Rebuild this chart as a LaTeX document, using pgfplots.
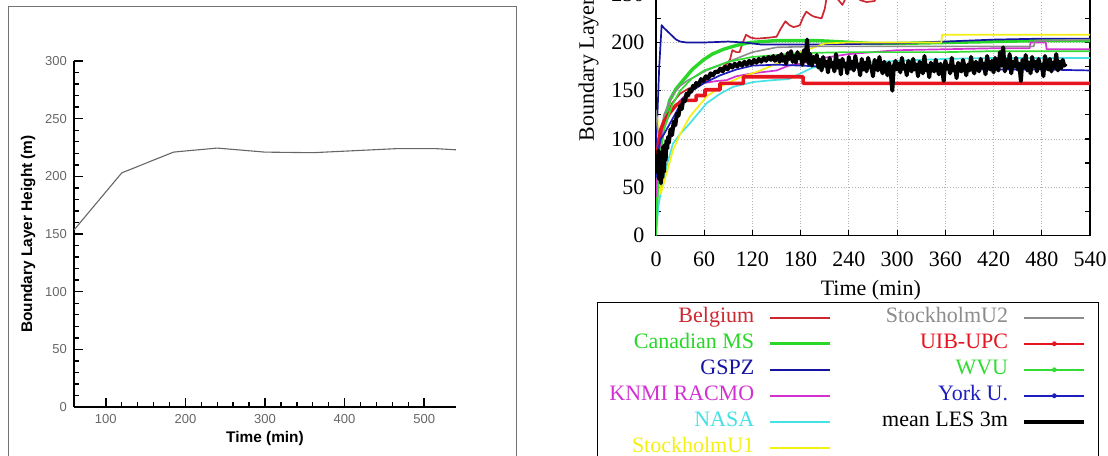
\documentclass[border=0pt]{standalone}
\usepackage{fontspec}
\setmainfont{Liberation Serif}
\newfontfamily\arial{Liberation Sans}
\usepackage{pgfplots}
\pgfplotsset{compat=1.18}

\definecolor{belg}{RGB}{205,40,50}
\definecolor{canad}{RGB}{40,215,40}
\definecolor{gspz}{RGB}{20,20,160}
\definecolor{knmi}{RGB}{210,50,210}
\definecolor{nasa}{RGB}{70,225,230}
\definecolor{stuA}{RGB}{245,240,20}
\definecolor{stuB}{RGB}{140,140,140}
\definecolor{uib}{RGB}{230,20,30}
\definecolor{wvu}{RGB}{50,220,50}
\definecolor{york}{RGB}{30,30,190}

\begin{document}
\begin{tikzpicture}

% left panel frame
\draw[black!55, line width=0.5pt] (4.3pt,-240pt) -- (4.3pt,-3pt) -- (258.3pt,-3pt) -- (258.3pt,-240pt);

% ---- left panel ----
\begin{axis}[
  at={(37pt,-203.5pt)}, anchor=south west,
  scale only axis, width=191pt, height=173pt,
  xmin=60, xmax=540, ymin=0, ymax=300,
  axis lines=left, axis line style={-, line width=0.9pt},
  xtick={100,200,...,500}, ytick={0,50,...,300},
  minor x tick num=4, minor y tick num=4,
  tick align=inside, major tick length=4.5pt, minor tick length=2.5pt,
  tick style={black, line width=0.7pt},
  /pgf/number format/assume math mode=true,
  ticklabel style={font=\arial\fontsize{6.5}{7}\selectfont, text=black!60},
  xlabel={Time (min)}, ylabel={Boundary Layer Height (m)},
  label style={font=\arial\bfseries\fontsize{7.7}{9}\selectfont},
  xlabel style={yshift=3pt},
  ylabel style={yshift=-2pt},
]
\addplot[black!60, line width=0.55pt] coordinates {
  (60,153.5) (120,203) (185,221) (200,222) (240,224.5) (300,221)
  (360,220.5) (420,222.5) (465,224) (515,224) (540,223)};
\end{axis}

% ---- right panel ----
\begin{axis}[
  at={(328pt,-117.65pt)}, anchor=south west,
  scale only axis, width=217pt, height=144.6pt,
  xmin=0, xmax=540, ymin=0, ymax=300,
  xtick={0,60,...,540}, ytick={0,50,...,300},
  minor y tick num=1,
  tick align=inside, major tick length=2.5pt, minor tick length=2.5pt,
  tick style={black, line width=0.6pt},
  axis line style={line width=0.7pt},
  grid=major, major grid style={densely dotted, black!30, line width=0.4pt},
  /pgf/number format/assume math mode=true,
  ticklabel style={font=\fontsize{11}{13}\selectfont},
  xticklabel style={yshift=-4.5pt},
  yticklabel style={xshift=-2.3pt},
  xlabel={Time (min)}, ylabel={Boundary Layer Height (m)},
  label style={font=\fontsize{11}{13}\selectfont},
  xlabel style={at={(axis description cs:0.495,-0.1891)}, anchor=center},
  ylabel style={at={(axis description cs:-0.1313,0.3226)}, anchor=south west, inner sep=0pt},
  legend columns=2, legend cell align=right, legend plot pos=right,
  legend image code/.code={\draw[mark repeat=2,mark phase=2,#1] plot coordinates {(0pt,0pt) (15pt,0pt) (30pt,0pt)};},
  legend style={
    at={(axis description cs:-0.136,-0.2306)}, anchor=north west,
    draw=black, inner xsep=6pt, inner ysep=2.7pt,
    font=\fontsize{11}{13}\selectfont,
    nodes={inner sep=0pt, text height=7.5pt, text depth=2.5pt},
    row sep=3pt,
    /tikz/every odd column/.append style={column sep=7pt},
    /tikz/every even column/.append style={column sep=25.5pt},
  },
  every axis plot/.append style={line join=round},
]
% legend, filled row by row
\addlegendimage{color=belg, line width=1pt}
\addlegendentry[text=belg]{Belgium}
\addlegendimage{color=stuB, line width=0.9pt}
\addlegendentry[text=stuB]{StockholmU2}
\addlegendimage{color=canad, line width=1.5pt}
\addlegendentry[text=canad]{Canadian MS}
\addlegendimage{color=uib, line width=1pt, mark=*, mark size=0.8pt}
\addlegendentry[text=uib]{UIB-UPC}
\addlegendimage{color=gspz, line width=1pt}
\addlegendentry[text=gspz]{GSPZ}
\addlegendimage{color=wvu, line width=1pt, mark=*, mark size=0.8pt}
\addlegendentry[text=wvu]{WVU}
\addlegendimage{color=knmi, line width=1pt}
\addlegendentry[text=knmi]{KNMI RACMO}
\addlegendimage{color=york, line width=1pt, mark=*, mark size=0.8pt}
\addlegendentry[text=york]{York U.}
\addlegendimage{color=nasa, line width=1pt}
\addlegendentry[text=nasa]{NASA}
\addlegendimage{color=black, line width=2.2pt}
\addlegendentry[text=black]{mean LES 3m}
\addlegendimage{color=stuA, line width=1pt}
\addlegendentry[text=stuA]{StockholmU1}

% Belgium
\addplot[forget plot, belg, line width=0.85pt] coordinates {
  (0,55) (3,85) (6,100) (10,115) (15,128) (20,137) (30,147) (40,152) (50,155)
  (55,156) (65,162) (72,167) (80,172) (88,178) (92,182) (95,192) (100,190)
  (104,190) (108,200) (112,208) (118,205) (125,204) (140,205) (150,206)
  (155,214) (161,222) (166,218) (171,216) (176,217) (179,218) (183,226)
  (187,232) (192,229) (196,227) (206,225) (210,235) (213,250) (220,252)
  (226,245) (232,239) (236,246) (240,256) (248,252) (254,244) (262,242)
  (272,243) (278,255) (286,265) (300,262) (320,268) (340,262) (360,270)
  (400,268) (440,272) (480,270) (540,272)};
% Canadian MS
\addplot[forget plot, canad, line width=1.7pt] coordinates {
  (0,20) (2,60) (5,90) (10,115) (17,140) (25,152) (34,161) (45,172) (59,182)
  (70,188) (84,193) (100,197) (117,200) (150,202) (200,202) (270,199)
  (300,199) (360,200) (420,201) (480,202) (540,202)};
% GSPZ
\addplot[forget plot, gspz, line width=0.85pt] coordinates {
  (0,88) (2,130) (4,175) (7,218) (10,215) (15,211) (20,207) (25,203) (30,201)
  (38,200) (60,200) (90,201) (110,200) (130,198) (200,198) (300,199)
  (360,201) (420,203) (480,204) (540,204)};
% KNMI RACMO
\addplot[forget plot, knmi, line width=0.85pt] coordinates {
  (0,40) (3,80) (6,100) (10,112) (15,122) (20,130) (30,140) (40,148) (50,154)
  (60,158) (75,160) (88,161) (100,165) (120,168) (150,171) (165,176)
  (180,178) (208,184) (240,188) (270,190) (300,192) (360,193) (420,194)
  (465,194) (466,200) (485,200) (486,193) (540,193)};
% NASA
\addplot[forget plot, nasa, line width=0.85pt] coordinates {
  (0,0) (3,30) (8,55) (13,71) (21,95) (30,105) (42,116) (63,137) (80,147)
  (96,154) (121,159) (146,161) (165,162) (180,168) (195,174) (240,178)
  (300,181) (360,183) (420,184) (480,184) (540,184)};
% StockholmU1
\addplot[forget plot, stuA, line width=0.85pt] coordinates {
  (0,125) (2,120) (4,60) (6,43) (10,55) (15,70) (21,88) (30,105) (42,123)
  (63,144) (84,156) (105,164) (127,170) (150,178) (180,190) (210,199)
  (240,200) (300,200) (355,200) (356,208) (540,208)};
% StockholmU2
\addplot[forget plot, stuB, line width=0.8pt] coordinates {
  (0,130) (2,110) (4,100) (7,112) (10,125) (15,135) (20,145) (25,150)
  (30,155) (35,158) (40,161) (50,165) (60,170) (75,175) (90,180) (105,185)
  (120,190) (150,195) (200,196) (300,196) (380,196) (470,196) (472,202)
  (540,203)};
% UIB-UPC
\addplot[forget plot, uib, line width=1.8pt] coordinates {
  (0,65) (3,95) (6,110) (10,118) (15,125) (20,130) (25,135) (35,140) (50,140)
  (50,145) (61,145) (61,151) (79.6,151) (79.6,157.6) (108.7,157.6)
  (108.7,164.5) (183,164.5) (183,157.6) (540,157.6)};
% WVU
\addplot[forget plot, wvu, line width=0.85pt] coordinates {
  (0,0) (2,40) (5,80) (10,110) (20,135) (30,150) (45,163) (60,171) (90,180)
  (120,185) (180,189) (240,190) (300,190) (360,190) (420,191) (480,191)
  (540,191)};
% York U.
\addplot[forget plot, york, line width=0.85pt] coordinates {
  (0,60) (3,90) (6,100) (10,105) (20,120) (30,135) (45,150) (60,158) (80,166)
  (100,172) (120,176) (150,177) (180,176) (240,174) (300,172) (360,172)
  (420,172) (480,172) (540,171)};
% mean LES 3m
\addplot[forget plot, black, line width=2pt] coordinates {
  (0,64) (1,82) (2,68) (3,88) (4,58) (5,86) (6,54) (7,80) (8,60) (9,92)
  (10,66) (11,94) (12,78) (13,98) (14,90) (15,102) (16,96) (18,110) (20,104)
  (22,118) (24,114) (26,126) (28,124) (30,134) (32,131) (34,141) (36,139)
  (38,147) (40,145) (42,151) (44,149) (46,155) (48,153) (50,158) (53,156)
  (56,162) (59,160) (62,165) (65,163) (68,168) (71,166) (74,170) (77,169)
  (80,173) (83,170) (86,175) (89,172) (92,177) (95,174) (98,178) (101,175)
  (104,179) (107,176) (110,180) (113,177) (116,181) (119,178) (122,182)
  (125,179) (128,183) (131,180) (134,184) (137,181) (140,185) (143,182)
  (146,186) (148,181)
  (150,183) (152,186) (154,180) (156,188) (158,181) (160,185) (162,178)
  (164,189) (166,183) (168,191) (170,180) (172,186) (174,179) (176,190)
  (178,184) (180,187) (182,177) (184,192) (186,181) (188,203) (190,178)
  (192,188) (194,176) (196,185) (198,180) (200,187)
  (202,174) (204,182) (206,171) (208,185) (210,176) (212,180) (214,169)
  (216,184) (218,175) (220,179) (222,170) (224,188) (226,174) (228,181)
  (230,167) (232,183) (234,176) (236,178) (238,168) (240,185) (242,173)
  (244,180) (246,171) (248,186) (250,175) (252,177) (254,166) (256,183)
  (258,172) (260,179) (262,170) (264,184) (266,176) (268,174) (270,165)
  (272,182) (274,177) (276,171) (278,185) (280,173) (282,168) (284,180)
  (286,174) (288,166) (290,179) (292,170) (294,150) (296,176) (298,181)
  (300,172)
  (302,178) (304,169) (306,184) (308,173) (310,176) (312,166) (314,181)
  (316,174) (318,170) (320,183) (322,172) (324,177) (326,165) (328,180)
  (330,175) (332,168) (334,186) (336,171) (338,176) (340,164) (342,179)
  (344,173) (346,170) (348,182) (350,174) (352,167) (354,178) (356,172)
  (358,160) (360,181) (362,173) (364,176) (366,168) (368,184) (370,171)
  (372,175) (374,163) (376,179) (378,172) (380,170) (382,182) (384,174)
  (386,166) (388,177) (390,171) (392,185) (394,173) (396,168) (398,180)
  (400,175)
  (402,170) (404,183) (406,174) (408,178) (410,167) (412,186) (414,176)
  (416,172) (418,181) (420,169) (422,184) (424,175) (426,171) (428,190)
  (430,176) (432,195) (434,170) (436,182) (438,174) (440,188) (442,168)
  (444,180) (446,175) (448,184) (450,172) (452,178) (454,160) (456,182)
  (458,174) (460,187) (462,171) (464,179) (466,168) (468,185) (470,175)
  (472,180) (474,170) (476,183) (478,174) (480,177) (482,165) (484,186)
  (486,176) (488,172) (490,183) (492,170) (494,179) (496,174) (498,188)
  (500,171) (502,180) (504,173) (506,182) (508,176) (510,178)};
\end{axis}

\pgfresetboundingbox
\path[use as bounding box] (0pt,0pt) rectangle (554pt,-227.5pt);
\end{tikzpicture}
\end{document}
